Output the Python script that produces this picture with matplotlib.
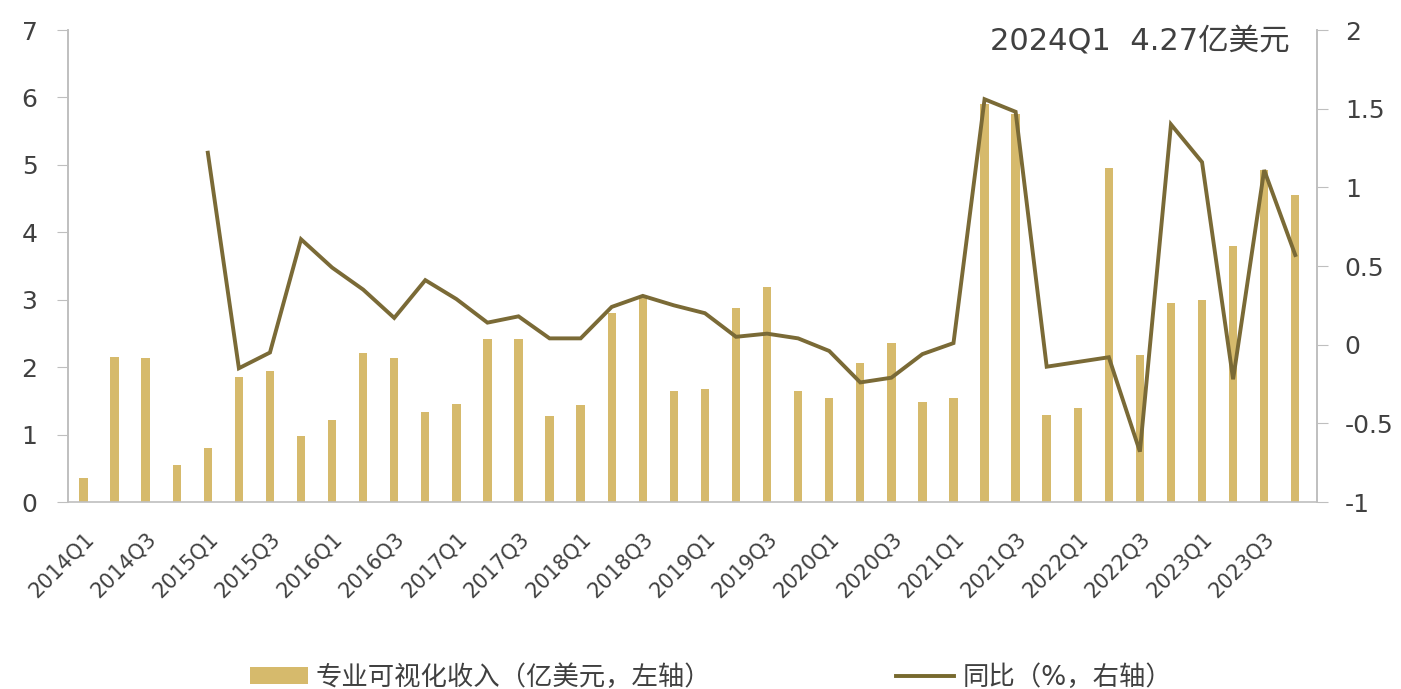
import matplotlib
matplotlib.use("Agg")
import matplotlib.pyplot as plt
from matplotlib.lines import Line2D
from matplotlib.patches import Patch

plt.rcParams['font.family'] = ['DejaVu Sans', 'Noto Sans CJK SC']

# Quarterly professional-visualization revenue (100M USD) and YoY growth
quarters = [f"{y}Q{q}" for y in range(2014, 2024) for q in range(1, 5)]
revenue = [0.35, 2.15, 2.13, 0.55,
           0.80, 1.86, 1.95, 0.98,
           1.22, 2.21, 2.13, 1.34,
           1.45, 2.42, 2.42, 1.28,
           1.44, 2.80, 3.03, 1.65,
           1.68, 2.88, 3.19, 1.65,
           1.54, 2.06, 2.36, 1.48,
           1.54, 5.90, 5.75, 1.29,
           1.39, 4.95, 2.18, 2.95,
           3.00, 3.79, 4.92, 4.55]
# YoY growth starts from 2015Q1
yoy = [None, None, None, None,
       1.22, -0.15, -0.05, 0.67,
       0.49, 0.35, 0.17, 0.41,
       0.29, 0.14, 0.18, 0.04,
       0.04, 0.24, 0.31, 0.25,
       0.20, 0.05, 0.07, 0.04,
       -0.04, -0.24, -0.21, -0.06,
       0.01, 1.56, 1.48, -0.14,
       -0.11, -0.08, -0.68, 1.40,
       1.16, -0.22, 1.11, 0.57]
note_text = "2024Q1  4.27亿美元"
bar_label = "专业可视化收入（亿美元，左轴）"
line_label = "同比（%，右轴）"

bar_color = "#D6BA6C"
line_color = "#7A6A36"
axis_color = "#BFBFBF"
text_color = "#404040"

fig = plt.figure(figsize=(14.01, 6.89), dpi=100)
ax = fig.add_axes([68 / 1401, 1 - 502 / 689, (1317 - 68) / 1401, (502 - 30) / 689])
ax2 = ax.twinx()

x = list(range(len(quarters)))
ax.bar(x, revenue, width=0.27, color=bar_color, zorder=2)

line_x = [i for i, v in zip(x, yoy) if v is not None]
line_y = [v for v in yoy if v is not None]
ax2.plot(line_x, line_y, color=line_color, lw=2.8, zorder=3, solid_joinstyle='miter')

ax.set_xlim(-0.5, 39.7)
ax.set_ylim(0, 7)
ax2.set_ylim(-1, 2)
ax.set_yticks(range(0, 8))
ax2.set_yticks([-1, -0.5, 0, 0.5, 1, 1.5, 2])
ax2.set_yticklabels(["-1", "-0.5", "0", "0.5", "1", "1.5", "2"])

ax.set_xticks(x[::2])
ax.set_xticklabels(quarters[::2], rotation=45, ha='right', rotation_mode='anchor',
                   fontsize=15, color=text_color)
ax.tick_params(axis='x', length=0, pad=19)
ax.tick_params(axis='y', length=8, color=axis_color, labelsize=18, labelcolor=text_color, pad=14)
ax2.tick_params(axis='y', length=8, color=axis_color, labelsize=18, labelcolor=text_color, pad=12)

for a in (ax, ax2):
    a.spines['top'].set_visible(False)
    for s in ('left', 'right', 'bottom'):
        a.spines[s].set_color(axis_color)
        a.spines[s].set_linewidth(1.2)
ax2.spines['bottom'].set_visible(False)

fig.text(1290 / 1401, 1 - 41 / 689, note_text, ha='right', va='center',
         fontsize=22, color="#404040")

handles = [Patch(facecolor=bar_color, edgecolor='none'),
           Line2D([0], [0], color="#77692E", lw=2.8)]
fig.legend(handles, [bar_label, line_label], loc='center', ncol=2,
           bbox_to_anchor=(711 / 1401, 1 - 678 / 689), frameon=False,
           fontsize=19, labelcolor=text_color, handlelength=2.2, handleheight=0.6,
           handletextpad=0.3, columnspacing=7.0, borderpad=0, borderaxespad=0)

fig.savefig("out.png", dpi=100, facecolor="white")
